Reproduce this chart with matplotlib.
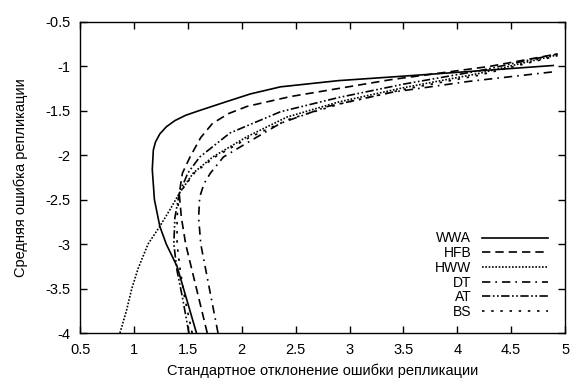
import numpy as np
import matplotlib.pyplot as plt

plt.rcParams['font.family'] = ['Liberation Sans', 'DejaVu Sans']

# frontier points: (std, mean)
wwa_x = [1.58, 1.46, 1.40, 1.30, 1.24, 1.19, 1.17, 1.18, 1.20, 1.24, 1.30, 1.38, 1.48, 1.60, 1.85, 2.08, 2.36, 2.90, 3.38, 4.20, 4.89]
wwa_y = [-4.0, -3.5, -3.25, -3.0, -2.8, -2.5, -2.16, -1.94, -1.85, -1.76, -1.68, -1.61, -1.55, -1.5, -1.4, -1.31, -1.23, -1.16, -1.12, -1.05, -0.99]

hfb_x = [1.68, 1.58, 1.48, 1.44, 1.42, 1.45, 1.52, 1.62, 1.73, 1.88, 2.05, 2.45, 3.38, 4.30, 4.93]
hfb_y = [-4.0, -3.5, -3.0, -2.7, -2.43, -2.2, -2.02, -1.8, -1.64, -1.53, -1.45, -1.34, -1.15, -1.0, -0.86]

hww_x = [0.87, 0.93, 0.98, 1.04, 1.13, 1.24, 1.34, 1.42, 1.55, 1.73, 2.05, 2.42, 2.90, 3.50, 4.20, 4.93]
hww_y = [-4.0, -3.75, -3.5, -3.27, -3.0, -2.8, -2.6, -2.43, -2.2, -2.02, -1.79, -1.57, -1.40, -1.24, -1.08, -0.87]

dt_x = [1.78, 1.70, 1.62, 1.60, 1.61, 1.65, 1.71, 1.83, 2.05, 2.36, 2.80, 3.40, 4.10, 4.90]
dt_y = [-4.0, -3.5, -3.0, -2.7, -2.47, -2.32, -2.2, -2.02, -1.86, -1.64, -1.45, -1.29, -1.17, -1.06]

at_x = [1.51, 1.45, 1.40, 1.37, 1.38, 1.42, 1.50, 1.61, 1.89, 2.36, 2.90, 3.50, 4.20, 4.93]
at_y = [-4.0, -3.6, -3.3, -3.0, -2.7, -2.43, -2.2, -2.02, -1.75, -1.51, -1.35, -1.20, -1.05, -0.86]

bs_x = [1.54, 1.47, 1.43, 1.40, 1.40, 1.42, 1.56, 1.75, 2.07, 2.45, 2.92, 3.50, 4.20, 4.93]
bs_y = [-4.0, -3.6, -3.3, -3.0, -2.7, -2.43, -2.2, -2.02, -1.80, -1.59, -1.42, -1.26, -1.10, -0.88]

fig, ax = plt.subplots(figsize=(5.76, 3.85), dpi=100)
fig.subplots_adjust(left=0.139, right=0.981, bottom=0.135, top=0.943)

lw = 1.2
ax.plot(wwa_x, wwa_y, color='black', lw=lw, ls='-', label='WWA')
ax.plot(hfb_x, hfb_y, color='black', lw=lw, ls=(0, (5, 3)), label='HFB')
ax.plot(hww_x, hww_y, color='black', lw=lw, ls=(0, (1, 1)), label='HWW')
ax.plot(dt_x, dt_y, color='black', lw=lw, ls=(0, (5, 3, 1, 3)), label='DT')
ax.plot(at_x, at_y, color='black', lw=lw, ls=(0, (5, 1.5, 1, 1.5, 1, 1.5)), label='AT')
ax.plot(bs_x, bs_y, color='black', lw=lw, ls=(0, (1.5, 4)), label='BS')

ax.set_xlim(0.5, 5)
ax.set_ylim(-4, -0.5)
ax.set_xticks(np.arange(0.5, 5.01, 0.5))
ax.set_yticks(np.arange(-4, -0.49, 0.5))
ax.set_xticklabels(['0.5', '1', '1.5', '2', '2.5', '3', '3.5', '4', '4.5', '5'])
ax.set_yticklabels(['-4', '-3.5', '-3', '-2.5', '-2', '-1.5', '-1', '-0.5'])
ax.tick_params(direction='in', top=True, right=True, length=5, width=1, labelsize=10.5, pad=7)
for s in ax.spines.values():
    s.set_linewidth(1)

ax.set_xlabel('Стандартное отклонение ошибки репликации', fontsize=10.5, labelpad=5)
ax.set_ylabel('Средняя ошибка репликации', fontsize=10.5, labelpad=12)

ax.legend(loc='lower right', frameon=False, markerfirst=False, fontsize=10,
          handlelength=4.7, labelspacing=0.05, handletextpad=0.8,
          bbox_to_anchor=(0.99, 0.005))

fig.savefig('out.png', dpi=100)
